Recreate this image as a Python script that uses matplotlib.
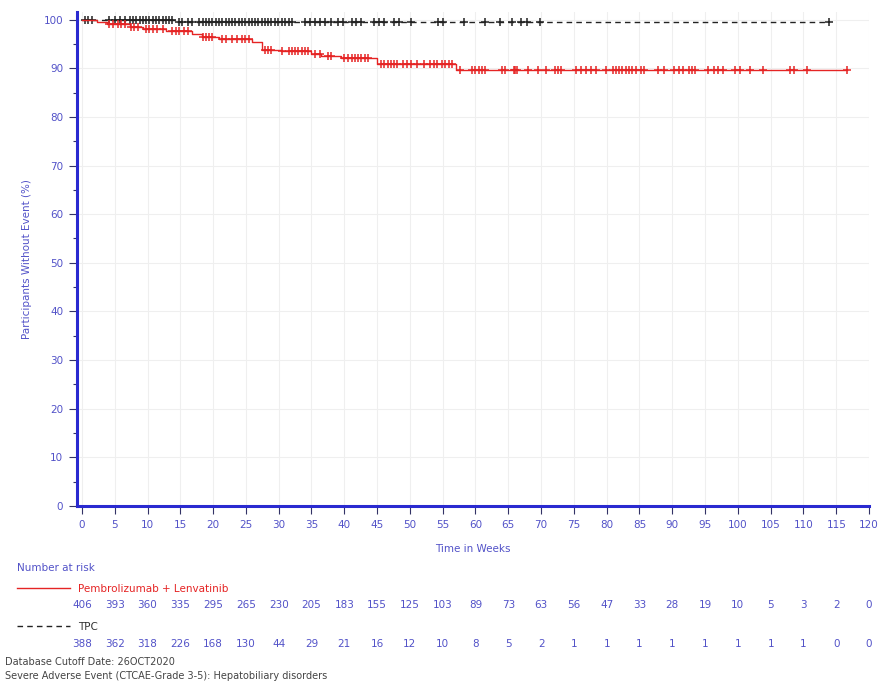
import matplotlib.pyplot as plt
import numpy as np
from matplotlib.transforms import blended_transform_factory

# Kaplan-Meier steps
pl_times = [0, 2.3, 3.9, 7.3, 9.3, 12.8, 16.8, 18.3, 20.9, 25.9, 27.4, 30.4, 35.0, 36.5, 39.5, 45.0, 57.0]
pl_surv = [100, 99.6, 99.1, 98.5, 98.1, 97.7, 97.0, 96.5, 96.0, 95.4, 93.8, 93.5, 92.9, 92.5, 92.1, 90.8, 89.7]
pl_end = 116.6
pl_censor = [4.2, 4.7, 5.5, 6.0, 6.5, 7.5, 8.0, 8.5, 9.8, 10.3, 10.8, 11.5, 12.3, 13.8, 14.3, 14.8,
             15.6, 16.1, 18.4, 18.9, 19.4, 19.9, 21.4, 21.9, 22.9, 23.6, 24.4, 24.9, 25.4, 27.9, 28.4,
             28.9, 30.5, 31.5, 32.0, 32.5, 33.0, 33.5, 34.0, 34.5, 35.5, 36.3, 37.5, 38.0, 40.0, 40.5,
             41.1, 41.6, 42.1, 42.6, 43.1, 43.6, 45.6, 46.1, 46.6, 47.1, 47.6, 48.1, 48.9, 49.6, 50.1,
             51.1, 52.1, 53.1, 53.7, 54.2, 54.9, 55.4, 55.9, 56.4, 57.7, 59.5, 60.0, 60.5, 61.0, 61.5,
             64.0, 64.5, 65.8, 66.0, 66.3, 68.0, 69.5, 70.8, 72.1, 72.6, 73.1, 75.3, 76.1, 76.9, 77.6,
             78.4, 79.9, 80.9, 81.4, 81.9, 82.4, 82.9, 83.4, 83.9, 84.4, 85.2, 85.7, 87.9, 88.7, 90.2,
             91.0, 91.7, 92.5, 93.0, 93.5, 95.5, 96.3, 97.0, 97.8, 99.5, 100.3, 101.8, 103.8, 107.9,
             108.6, 110.6, 116.6]

tpc_times = [0, 14.3]
tpc_surv = [100, 99.4]
tpc_end = 113.9
tpc_censor = [0.45, 1.0, 1.5, 4.2, 5.0, 5.75, 6.5, 7.3, 7.8, 8.3, 8.8, 9.3, 9.8, 10.3, 10.8, 11.3,
              11.8, 12.3, 12.8, 13.3, 13.8, 14.8, 15.3, 16.1, 16.8, 17.8, 18.4, 18.9, 19.4, 19.9,
              20.4, 20.9, 21.4, 21.9, 22.4, 22.9, 23.4, 23.9, 24.4, 24.9, 25.4, 25.9, 26.4, 26.9,
              27.4, 27.9, 28.4, 28.9, 29.4, 29.9, 30.5, 31.0, 31.5, 32.0, 34.0, 34.8, 35.5, 36.3,
              37.0, 38.0, 39.0, 39.8, 41.1, 41.8, 42.6, 44.6, 45.3, 46.1, 47.6, 48.4, 50.1, 54.3,
              55.0, 58.2, 61.5, 63.7, 65.5, 67.0, 67.8, 69.8, 113.9]

risk_weeks = list(range(0, 121, 5))
risk_pl = [406, 393, 360, 335, 295, 265, 230, 205, 183, 155, 125, 103, 89, 73, 63, 56, 47, 33, 28, 19, 10, 5, 3, 2, 0]
risk_tpc = [388, 362, 318, 226, 168, 130, 44, 29, 21, 16, 12, 10, 8, 5, 2, 1, 1, 1, 1, 1, 1, 1, 1, 0, 0]

BLUE = '#2a2ad0'
TXT = '#5252c8'
RED = '#e52424'

plt.rcParams['font.family'] = ['DejaVu Sans']

fig = plt.figure(figsize=(8.83, 6.82), dpi=100)
ax = fig.add_axes([0.0872, 0.258, 0.897, 0.724])


def draw_km(times, surv, end, censor, color, ls):
    xs = list(times) + [end]
    ys = list(surv) + [surv[-1]]
    ax.step(xs, ys, where='post', color=color, lw=1.0, ls=ls, dashes=(4, 3) if ls == '--' else (None, None))
    idx = np.searchsorted(times, censor, side='right') - 1
    cy = np.array(surv)[idx]
    ax.plot(censor, cy, ls='none', marker='+', ms=5.5, mew=1.1, color=color)


draw_km(tpc_times, tpc_surv, tpc_end, tpc_censor, '#222222', '--')
draw_km(pl_times, pl_surv, pl_end, pl_censor, RED, '-')

ax.set_xlim(-0.75, 120)
ax.set_ylim(0, 101.5)
ax.set_xticks(risk_weeks)
ax.set_yticks(range(0, 101, 10))
ax.set_yticks(range(5, 100, 10), minor=True)
ax.grid(True, color='#efefef', lw=0.8)
ax.set_axisbelow(True)
for s in ['top', 'right']:
    ax.spines[s].set_visible(False)
for s in ['left', 'bottom']:
    ax.spines[s].set_color(BLUE)
    ax.spines[s].set_linewidth(2.2)
ax.tick_params(axis='both', which='major', length=6, width=0.8, color='#333366',
               labelcolor=TXT, labelsize=7.5, pad=4)
ax.tick_params(axis='y', which='minor', length=3, width=0.8, color='#333366')
ax.set_xlabel('Time in Weeks', color=TXT, fontsize=7.5, labelpad=10)
ax.set_ylabel('Participants Without Event (%)', color=TXT, fontsize=7.5, labelpad=8)

# number at risk table
tr = blended_transform_factory(ax.transData, fig.transFigure)
fig.text(17 / 883, 1 - 568 / 682, 'Number at risk', color=TXT, fontsize=7.5, va='center')
fig.add_artist(plt.Line2D([17 / 883, 70 / 883], [1 - 588 / 682] * 2, color=RED, lw=1.0))
fig.text(78 / 883, 1 - 589 / 682, 'Pembrolizumab + Lenvatinib', color=RED, fontsize=7.5, va='center')
fig.add_artist(plt.Line2D([17 / 883, 70 / 883], [1 - 626 / 682] * 2, color='#222222', lw=1.0,
                          ls='--', dashes=(4, 3)))
fig.text(78 / 883, 1 - 627 / 682, 'TPC', color='#333333', fontsize=7.5, va='center')
for w, a, b in zip(risk_weeks, risk_pl, risk_tpc):
    ax.text(w, 1 - 605 / 682, str(a), transform=tr, ha='center', va='center', color=TXT, fontsize=7.5)
    ax.text(w, 1 - 644 / 682, str(b), transform=tr, ha='center', va='center', color=TXT, fontsize=7.5)

fig.text(5 / 883, 1 - 662 / 682, 'Database Cutoff Date: 26OCT2020', color='#444444', fontsize=7, va='center')
fig.text(5 / 883, 1 - 676 / 682, 'Severe Adverse Event (CTCAE-Grade 3-5): Hepatobiliary disorders',
         color='#444444', fontsize=7, va='center')

fig.savefig('out.png', dpi=100)
